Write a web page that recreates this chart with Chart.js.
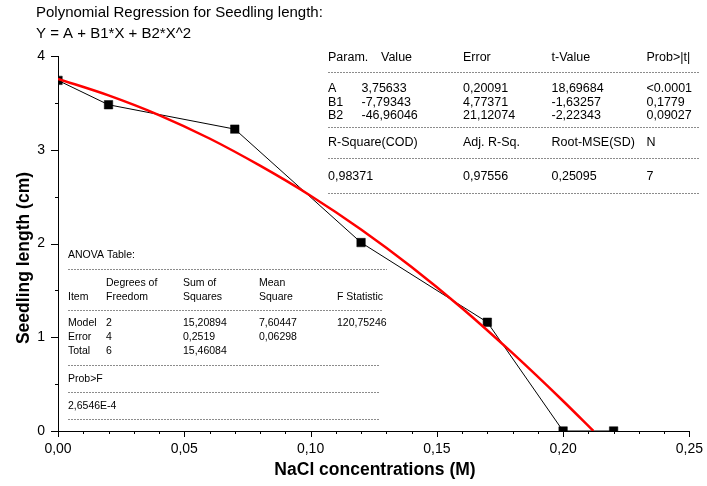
<!DOCTYPE html>
<html>
<head>
<meta charset="utf-8">
<script src="https://cdn.jsdelivr.net/npm/chart.js@4"></script>
<style>
html,body{margin:0;padding:0;background:#fff;}
#wrap{width:707px;height:486px;position:relative;}
</style>
</head>
<body>
<div id="wrap"><canvas id="c"></canvas></div>
<script>
// ---- data ----
const concentrations = [0, 0.02, 0.07, 0.12, 0.17, 0.20, 0.22];
const seedlingLength = [3.74, 3.48, 3.22, 2.01, 1.16, 0, 0];
const fitX = [0, 0.02, 0.04, 0.06, 0.08, 0.10, 0.12, 0.14, 0.16, 0.18, 0.20, 0.212];
const fitY = [3.756, 3.58, 3.37, 3.12, 2.83, 2.51, 2.15, 1.75, 1.31, 0.83, 0.32, 0];
const xMajorTicks = [0, 0.05, 0.10, 0.15, 0.20, 0.25];
const yMajorTicks = [0, 1, 2, 3, 4];
const titleLines = ['Polynomial Regression for Seedling length:', 'Y = A + B1*X + B2*X^2'];
const xTitle = 'NaCl concentrations (M)';
const yTitle = 'Seedling length (cm)';
const paramHeader = ['Param.', 'Value', 'Error', 't-Value', 'Prob>|t|'];
const paramRows = [
  ['A', '3,75633', '0,20091', '18,69684', '<0.0001'],
  ['B1', '-7,79343', '4,77371', '-1,63257', '0,1779'],
  ['B2', '-46,96046', '21,12074', '-2,22343', '0,09027']
];
const statHeader = ['R-Square(COD)', 'Adj. R-Sq.', 'Root-MSE(SD)', 'N'];
const statValues = ['0,98371', '0,97556', '0,25095', '7'];
const anovaTitle = 'ANOVA Table:';
const anovaHeader1 = ['', 'Degrees of', 'Sum of', 'Mean', ''];
const anovaHeader2 = ['Item', 'Freedom', 'Squares', 'Square', 'F Statistic'];
const anovaRows = [
  ['Model', '2', '15,20894', '7,60447', '120,75246'],
  ['Error', '4', '0,2519', '0,06298', ''],
  ['Total', '6', '15,46084', '', '']
];
const probLabel = 'Prob>F';
const probValue = '2,6546E-4';

// ---- helpers ----
const FONT = "'Liberation Sans', Arial, Helvetica, sans-serif";
const near = (a, b) => Math.abs(a - b) < 1e-6;
const isMajorX = v => xMajorTicks.some(t => near(t, v));
const isMajorY = v => yMajorTicks.some(t => near(t, v));

function dashLine(ctx, x1, x2, y) {
  ctx.save();
  ctx.strokeStyle = '#8c8c8c';
  ctx.lineWidth = 1;
  ctx.setLineDash([2, 1]);
  ctx.beginPath();
  ctx.moveTo(x1, Math.round(y) + 0.5);
  ctx.lineTo(x2, Math.round(y) + 0.5);
  ctx.stroke();
  ctx.restore();
}
function txt(ctx, s, x, y) { if (s) ctx.fillText(s, x, y); }

const tickPlugin = {
  id: 'customTicks',
  afterDraw(chart) {
    const ctx = chart.ctx;
    const xs = chart.scales.x, ys = chart.scales.y;
    ctx.save();
    ctx.strokeStyle = '#000';
    ctx.lineWidth = 1;
    xs.ticks.forEach(t => {
      const p = Math.round(xs.getPixelForValue(t.value)) + 0.5;
      const len = isMajorX(t.value) ? 6 : 3;
      ctx.beginPath(); ctx.moveTo(p, xs.top); ctx.lineTo(p, xs.top + len); ctx.stroke();
    });
    ys.ticks.forEach(t => {
      const p = Math.round(ys.getPixelForValue(t.value)) + 0.5;
      const len = isMajorY(t.value) ? 7 : 3;
      ctx.beginPath(); ctx.moveTo(ys.right - len, p); ctx.lineTo(ys.right, p); ctx.stroke();
    });
    ctx.restore();
  }
};

const textPlugin = {
  id: 'textOverlay',
  afterDraw(chart) {
    const ctx = chart.ctx;
    ctx.save();
    ctx.fillStyle = '#000';
    ctx.textBaseline = 'middle';
    ctx.textAlign = 'left';

    // title
    ctx.font = '15px ' + FONT;
    txt(ctx, titleLines[0], 36, 13);
    txt(ctx, titleLines[1], 36, 33.5);

    // axis titles
    ctx.font = 'bold 17.5px ' + FONT;
    ctx.textAlign = 'center';
    txt(ctx, xTitle, 375, 470);
    ctx.save();
    ctx.translate(24, 258);
    ctx.rotate(-Math.PI / 2);
    txt(ctx, yTitle, 0, 0);
    ctx.restore();
    ctx.textAlign = 'left';

    // parameter table
    ctx.font = '12.5px ' + FONT;
    const pc = [328, 361.5, 463, 551.5, 646.5];
    txt(ctx, paramHeader[0], pc[0], 57.5);
    txt(ctx, paramHeader[1], 381, 57.5);
    txt(ctx, paramHeader[2], pc[2], 57.5);
    txt(ctx, paramHeader[3], pc[3], 57.5);
    txt(ctx, paramHeader[4], pc[4], 57.5);
    dashLine(ctx, 328, 700, 72);
    const ry = [89, 102.5, 116];
    paramRows.forEach((r, i) => r.forEach((c, j) => txt(ctx, c, pc[j], ry[i])));
    dashLine(ctx, 328, 700, 127);
    txt(ctx, statHeader[0], pc[0], 142.5);
    txt(ctx, statHeader[1], pc[2], 142.5);
    txt(ctx, statHeader[2], pc[3], 142.5);
    txt(ctx, statHeader[3], pc[4], 142.5);
    dashLine(ctx, 328, 700, 158);
    txt(ctx, statValues[0], pc[0], 176.5);
    txt(ctx, statValues[1], pc[2], 176.5);
    txt(ctx, statValues[2], pc[3], 176.5);
    txt(ctx, statValues[3], pc[4], 176.5);
    dashLine(ctx, 328, 700, 193);

    // ANOVA table
    ctx.font = '10.5px ' + FONT;
    const ac = [68, 106, 183, 259, 337];
    txt(ctx, anovaTitle, ac[0], 255);
    dashLine(ctx, 68, 387, 269);
    anovaHeader1.forEach((c, j) => txt(ctx, c, ac[j], 283));
    anovaHeader2.forEach((c, j) => txt(ctx, c, ac[j], 297));
    dashLine(ctx, 68, 383, 310);
    const ay = [323.5, 337.5, 351];
    anovaRows.forEach((r, i) => r.forEach((c, j) => txt(ctx, c, ac[j], ay[i])));
    dashLine(ctx, 68, 380, 365);
    txt(ctx, probLabel, ac[0], 379.5);
    dashLine(ctx, 68, 380, 392);
    txt(ctx, probValue, ac[0], 406);
    dashLine(ctx, 68, 380, 419);

    ctx.restore();
  }
};

new Chart(document.getElementById('c'), {
  type: 'scatter',
  data: {
    datasets: [
      {
        label: 'Polynomial fit',
        data: fitX.map((x, i) => ({ x: x, y: fitY[i] })),
        showLine: true,
        borderColor: '#ff0000',
        borderWidth: 2.5,
        pointRadius: 0,
        cubicInterpolationMode: 'monotone',
        order: 0
      },
      {
        label: 'Seedling length',
        data: concentrations.map((x, i) => ({ x: x, y: seedlingLength[i] })),
        showLine: true,
        borderColor: '#000',
        borderWidth: 1,
        pointStyle: 'rect',
        pointRadius: 6,
        pointBackgroundColor: '#000',
        pointBorderColor: '#000',
        pointBorderWidth: 0.5,
        order: 1
      }
    ]
  },
  options: {
    responsive: true,
    maintainAspectRatio: false,
    animation: false,
    devicePixelRatio: 1,
    layout: { padding: { top: 56, right: 15, left: 0, bottom: 0 } },
    plugins: { legend: { display: false }, tooltip: { enabled: false }, title: { display: false } },
    scales: {
      x: {
        type: 'linear',
        min: 0, max: 0.25,
        border: { display: true, color: '#000', width: 1 },
        grid: { display: true, drawOnChartArea: false, drawTicks: true, tickLength: 6, tickColor: 'rgba(0,0,0,0)' },
        ticks: {
          stepSize: 0.01, autoSkip: false, maxRotation: 0, minRotation: 0, padding: 4,
          color: '#000', font: { family: FONT, size: 14 },
          callback: v => isMajorX(v) ? v.toFixed(2).replace('.', ',') : ''
        },
        title: { display: false },
        afterFit: s => { s.height = 55; }
      },
      y: {
        type: 'linear',
        min: 0, max: 4,
        border: { display: true, color: '#000', width: 1 },
        grid: { display: true, drawOnChartArea: false, drawTicks: true, tickLength: 7, tickColor: 'rgba(0,0,0,0)' },
        ticks: {
          stepSize: 0.5, autoSkip: false, padding: 6,
          color: '#000', font: { family: FONT, size: 14 },
          callback: v => isMajorY(v) ? String(Math.round(v)) : ''
        },
        title: { display: false },
        afterFit: s => { s.width = 58; }
      }
    }
  },
  plugins: [tickPlugin, textPlugin]
});
</script>
</body>
</html>
